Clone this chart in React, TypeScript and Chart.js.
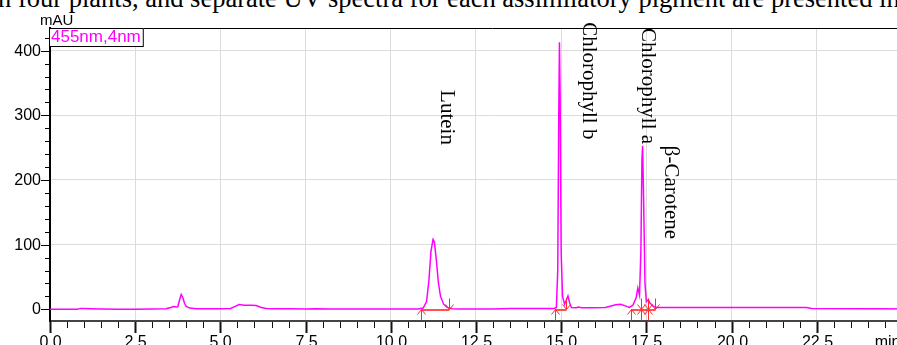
import React, { useEffect, useRef } from "react";
import { Chart, registerables } from "chart.js";

Chart.register(...registerables);

// Chromatogram trace (retention time in min, absorbance in mAU)
const times: number[] = [
  0.0, 0.8, 0.9, 1.0, 1.2, 1.5, 2.0, 2.5, 3.0, 3.4, 3.55, 3.62, 3.7, 3.75, 3.8, 3.85, 3.9, 3.95, 4.0, 4.1, 4.3,
  5.0, 5.3, 5.45, 5.55, 5.7, 5.9, 6.05, 6.2, 6.35, 6.6, 7.0, 7.5, 7.8, 8.2, 9.0, 10.0, 10.8, 10.95, 11.05, 11.12,
  11.18, 11.24, 11.28, 11.34, 11.4, 11.46, 11.55, 11.65, 11.8, 12.0, 13.0, 13.5, 14.5, 14.8, 14.86, 14.9, 14.93,
  14.95, 14.97, 15.0, 15.04, 15.1, 15.15, 15.2, 15.25, 15.3, 15.45, 15.5, 15.6, 15.9, 16.3, 16.6, 16.75, 16.9,
  17.0, 17.1, 17.2, 17.25, 17.3, 17.34, 17.37, 17.39, 17.42, 17.46, 17.5, 17.56, 17.6, 17.7, 17.8, 18.5, 20.0,
  22.0, 22.2, 22.35, 24.0, 26.0,
];
const absorbance: number[] = [
  0.0, 0.3, 1.5, 1.2, 0.8, 0.5, 0.3, 0.3, 0.5, 1.0, 3.0, 4.5, 3.5, 4.0, 14, 23, 18, 9, 4.5, 2, 1,
  1, 1.5, 5, 7.5, 6.5, 6.5, 6, 3, 1.5, 1, 0.8, 0.5, 1.0, 0.6, 0.5, 0.5, 0.6, 2, 12, 45,
  90, 108, 104, 75, 40, 20, 8, 3, 1, 0.7, 0.7, 1.2, 1.5, 1.5, 3, 60,
  300, 413, 330, 90, 20, 8, 14, 20.6, 10, 3, 2.5, 3.5, 2.5, 2.5, 3, 7, 8, 5,
  3, 6, 18, 33, 22, 90, 230, 253, 170, 40, 12, 15, 10, 5, 3, 3, 3,
  3, 2.8, 1.2, 0.8, 0.5,
];

// Peak annotations
const peakNames: string[] = ["Lutein", "Chlorophyll b", "Chlorophyll a", "β-Carotene"];
const peakLabelTimes: number[] = [11.65, 15.79, 17.52, 18.22];
const peakLabelTops: number[] = [339, 444, 435, 253];

// Integration baselines (start / end times)
const integStarts: number[] = [10.9, 14.82, 17.06, 17.34, 17.54];
const integEnds: number[] = [11.7, 15.13, 17.34, 17.54, 17.75];

// Axes
const xMin = 0;
const xMax = 26;
const yMin = -18;
const yMax = 435;
const xMajorStep = 2.5;
const xMinorStep = 0.5;
const yMajorStep = 100;
const yMinorStep = 20;
const yUnit = "mAU";
const xUnit = "min";
const signalLabel = "455nm,4nm";

const SANS = "'Liberation Sans', Arial, sans-serif";
const SERIF = "'Liberation Serif', 'Times New Roman', serif";

const W = 960;
const H = 370;

const overlay = {
  id: "overlay",
  afterDraw(chart: any) {
    const ctx = chart.ctx as CanvasRenderingContext2D;
    const { left, right, top, bottom } = chart.chartArea;
    const xs = chart.scales.x;
    const ys = chart.scales.y;
    ctx.save();

    // top border
    ctx.strokeStyle = "#000";
    ctx.lineWidth = 1;
    ctx.beginPath();
    ctx.moveTo(left - 1, Math.round(top) + 0.5);
    ctx.lineTo(right, Math.round(top) + 0.5);
    ctx.stroke();

    // y ticks
    ctx.strokeStyle = "#000";
    for (let v = 0; v <= yMax; v += yMinorStep) {
      const y = Math.round(ys.getPixelForValue(v)) + 0.5;
      const major = v % yMajorStep === 0;
      ctx.lineWidth = 1;
      ctx.beginPath();
      ctx.moveTo(left - (major ? 9 : 5), y);
      ctx.lineTo(left, y);
      ctx.stroke();
      if (major) {
        ctx.fillStyle = "#000";
        ctx.font = `16px ${SANS}`;
        ctx.textAlign = "right";
        ctx.textBaseline = "middle";
        ctx.fillText(String(v), left - 9, y + 0.5);
      }
    }

    // x ticks
    const nMinor = Math.round((xMax - xMin) / xMinorStep);
    for (let i = 0; i <= nMinor; i++) {
      const v = xMin + i * xMinorStep;
      const x = Math.round(xs.getPixelForValue(v)) + 0.5;
      const major = Math.abs(v / xMajorStep - Math.round(v / xMajorStep)) < 1e-6;
      ctx.strokeStyle = "#111";
      ctx.lineWidth = major ? 2 : 1;
      ctx.beginPath();
      ctx.moveTo(x, bottom + 1);
      ctx.lineTo(x, bottom + (major ? 12 : 7));
      ctx.stroke();
      if (major && v < xMax - 1) {
        ctx.fillStyle = "#000";
        ctx.font = `16px ${SANS}`;
        ctx.textAlign = "center";
        ctx.textBaseline = "top";
        ctx.fillText(v.toFixed(1), x, bottom + 14);
      }
    }
    ctx.font = `16px ${SANS}`;
    ctx.textAlign = "left";
    ctx.textBaseline = "top";
    ctx.fillStyle = "#000";
    ctx.fillText(xUnit, xs.getPixelForValue(24.2), bottom + 14);

    // y unit
    ctx.font = `15px ${SANS}`;
    ctx.textAlign = "left";
    ctx.textBaseline = "alphabetic";
    ctx.fillText(yUnit, left - 10, top - 3);

    // signal box
    ctx.font = `17px ${SANS}`;
    const tw = ctx.measureText(signalLabel).width;
    ctx.fillStyle = "#fff";
    ctx.fillRect(left, top, tw + 4, 18);
    ctx.strokeStyle = "#000";
    ctx.lineWidth = 1;
    ctx.strokeRect(Math.round(left) - 0.5, Math.round(top) + 0.5, tw + 4, 18);
    ctx.fillStyle = "#ff00ff";
    ctx.textBaseline = "alphabetic";
    ctx.fillText(signalLabel, left + 1, top + 14);

    // integration markers
    const y0 = Math.round(ys.getPixelForValue(0)) + 0.5;
    for (let i = 0; i < integStarts.length; i++) {
      const xa = Math.round(xs.getPixelForValue(integStarts[i])) + 0.5;
      const xb = Math.round(xs.getPixelForValue(integEnds[i])) + 0.5;
      ctx.lineWidth = 2;
      ctx.strokeStyle = "rgba(255,50,50,0.85)";
      ctx.beginPath();
      ctx.moveTo(xa, y0 + 0.5);
      ctx.lineTo(xb, y0 + 0.5);
      ctx.stroke();
      ctx.lineWidth = 1;
      ctx.strokeStyle = "#ff2a2a";
      // up arrow at start
      ctx.beginPath();
      ctx.moveTo(xa, y0 + 11);
      ctx.lineTo(xa, y0);
      ctx.moveTo(xa - 4, y0 + 5);
      ctx.lineTo(xa, y0);
      ctx.lineTo(xa + 4, y0 + 5);
      ctx.stroke();
      // down arrow at end
      ctx.beginPath();
      ctx.moveTo(xb, y0 - 11);
      ctx.lineTo(xb, y0);
      ctx.moveTo(xb - 4, y0 - 5);
      ctx.lineTo(xb, y0);
      ctx.lineTo(xb + 4, y0 - 5);
      ctx.stroke();
    }

    // peak labels (rotated)
    ctx.fillStyle = "#000";
    ctx.font = `21px ${SERIF}`;
    ctx.textAlign = "left";
    ctx.textBaseline = "middle";
    for (let i = 0; i < peakNames.length; i++) {
      const x = xs.getPixelForValue(peakLabelTimes[i]);
      const y = ys.getPixelForValue(peakLabelTops[i]);
      ctx.save();
      ctx.translate(x, y);
      ctx.rotate(Math.PI / 2);
      ctx.fillText(peakNames[i], 0, 0);
      ctx.restore();
    }

    ctx.restore();
  },
};

export default function App() {
  const ref = useRef<HTMLCanvasElement>(null);
  useEffect(() => {
    if (!ref.current) return;
    const chart = new Chart(ref.current, {
      type: "line",
      data: {
        datasets: [
          {
            data: times.map((t, i) => ({ x: t, y: absorbance[i] })),
            borderColor: "#ff00ff",
            borderWidth: 1.5,
            pointRadius: 0,
            tension: 0,
            fill: false,
          },
        ],
      },
      options: {
        animation: false,
        responsive: false,
        devicePixelRatio: 1,
        layout: { padding: { top: 28, right: W - 936, left: 0, bottom: 0 } },
        plugins: { legend: { display: false }, tooltip: { enabled: false }, title: { display: false } },
        scales: {
          x: {
            type: "linear",
            min: xMin,
            max: xMax,
            ticks: { stepSize: xMajorStep, display: false },
            grid: {
              drawTicks: false,
              color: (c: any) => {
                const v = c.tick ? c.tick.value : 0;
                return v > 0 && Math.abs(v / xMajorStep - Math.round(v / xMajorStep)) < 1e-6 ? "#dcdcdc" : "rgba(0,0,0,0)";
              },
              lineWidth: 1,
            },
            border: { display: true, color: "#444", width: 2 },
            afterFit: (s: any) => {
              s.height = H - 321;
            },
          },
          y: {
            type: "linear",
            min: yMin,
            max: yMax,
            ticks: { stepSize: yMajorStep, display: false },
            grid: {
              drawTicks: false,
              color: (c: any) => {
                const v = c.tick ? c.tick.value : 0;
                return v % yMajorStep === 0 ? "#dcdcdc" : "rgba(0,0,0,0)";
              },
              lineWidth: 1,
            },
            border: { display: true, color: "#000", width: 2 },
            afterFit: (s: any) => {
              s.width = 50;
            },
          },
        },
      },
      plugins: [overlay],
    });
    return () => chart.destroy();
  }, []);

  return (
    <div style={{ position: "fixed", left: 0, top: 0, width: 897, height: 345, overflow: "hidden", background: "#fff" }}>
      <div
        style={{
          position: "absolute",
          left: -2,
          top: -15,
          whiteSpace: "nowrap",
          fontFamily: SERIF,
          fontSize: 26.5,
          lineHeight: "26px",
          color: "#000",
        }}
      >
        n four plants, and separate UV spectra for each assimilatory pigment are presented in
      </div>
      <canvas ref={ref} width={W} height={H} style={{ position: "absolute", left: 0, top: 0, width: W, height: H }} />
    </div>
  );
}
